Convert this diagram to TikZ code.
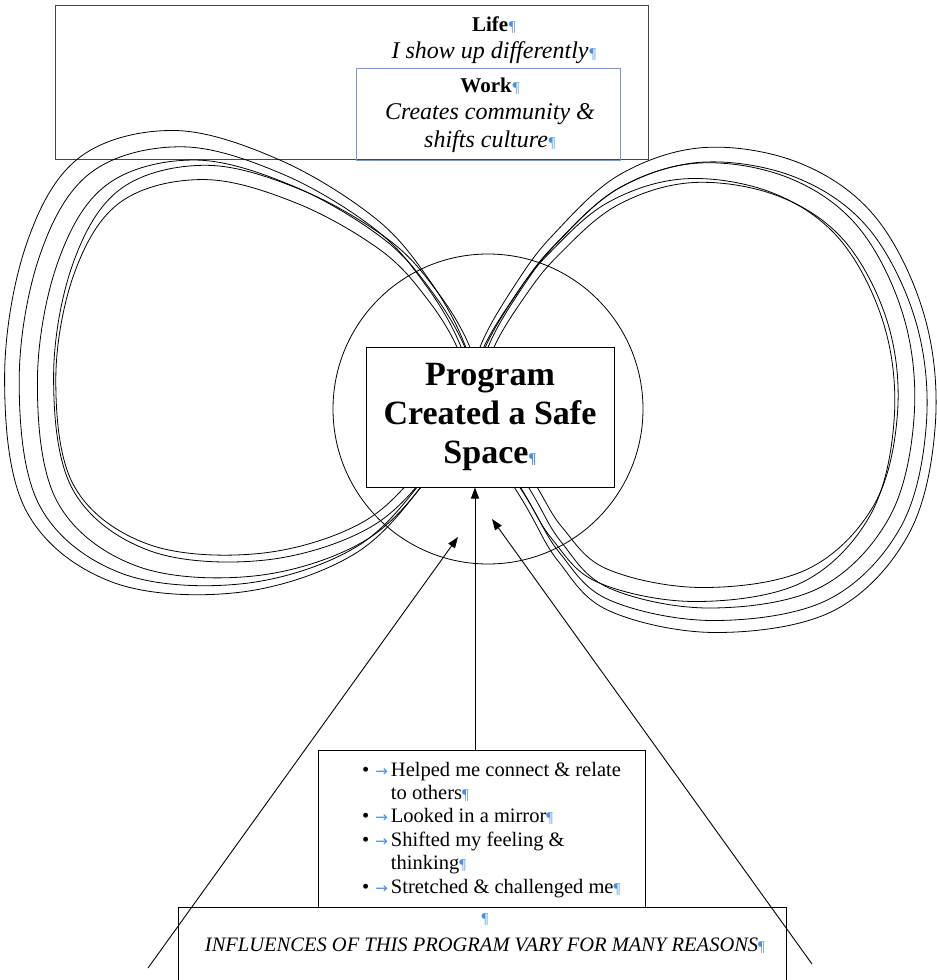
\documentclass[tikz,border=0pt]{standalone}
\usepackage{fontspec}
\setmainfont{Liberation Serif}
\newfontfamily\arrowfont{DejaVu Sans}
\usepackage{tikz}
\usetikzlibrary{arrows.meta}

\definecolor{pilblue}{RGB}{74,144,226}
\definecolor{lifegray}{RGB}{70,70,70}
\definecolor{workblue}{RGB}{125,155,200}
\newcommand{\pil}{\textcolor{pilblue}{\fontsize{15}{15}\selectfont\P}}
\newcommand{\tabarrow}{\textcolor{pilblue}{\arrowfont\fontsize{15}{15}\selectfont →}}
\newcommand{\headword}[1]{{\fontsize{21}{27.5}\selectfont\upshape\bfseries #1}}

\begin{document}
\begin{tikzpicture}[x=1pt, y=-1pt, >={Triangle[length=11pt,width=8pt]},
    box/.style={draw, line width=1pt, inner sep=0pt},
    txt/.style={font=\fontsize{20.5}{23.4}\selectfont, align=center, inner sep=0pt},
    bigtxt/.style={font=\fontsize{24}{27.5}\selectfont\itshape, align=center, inner sep=0pt},
    strand/.style={line width=0.8pt},
    arr/.style={->, line width=0.9pt}]

    \useasboundingbox (0,0) rectangle (937,980);

    % Define nodes
    \node[box, draw=lifegray, minimum width=593pt, minimum height=154pt] (life) at (351.5,82) {};
    \node[bigtxt] (lifetext) at (494,40) {\headword{Life}\pil\\ I show up differently\pil};
    \node[box, draw=workblue, line width=0.7pt, minimum width=264pt, minimum height=92pt] (work) at (488,114) {};
    \node[bigtxt] (worktext) at (490,115) {\headword{Work}\pil\\ Creates community \&\\ shifts culture\pil};
    \node[draw, circle, line width=0.8pt, minimum size=310pt] (ring) at (488,409) {};

    % Figure eight drawn by hand, several times over
    \foreach \sx/\sy/\ox/\oy in {1.06/1.10/-2/-4, 1.02/1.04/-5/0, 0.99/0.99/0/3, 0.96/0.94/3/-2, 0.93/0.89/-8/2} {
        \draw[strand, shift={(473+\ox,360+\oy)}, xscale=\sx, yscale=\sy] plot[smooth cycle, tension=0.6] coordinates
            {(5,40) (-7,-13) (-40,-70) (-90,-125) (-180,-178) (-280,-205) (-370,-180) (-420,-100) (-440,20)
             (-420,140) (-340,205) (-220,215) (-110,180) (-40,110)};
    }
    \foreach \sx/\sy/\ox/\oy in {1.07/1.09/0/0, 1.04/1.03/4/3, 1.0/1.0/9/-2, 0.97/0.95/2/4, 0.95/0.91/14/0} {
        \draw[strand, shift={(473+\ox,360+\oy)}, xscale=\sx, yscale=\sy] plot[smooth cycle, tension=0.6] coordinates
            {(-5,40) (7,-13) (40,-70) (75,-115) (137,-170) (217,-195) (307,-180) (377,-130) (422,-40)
             (432,60) (407,160) (337,230) (227,250) (127,230) (80,185) (50,135)};
    }

    \node[box, fill=white, minimum width=248pt, minimum height=140pt, align=center,
        font=\fontsize{34}{39}\selectfont\bfseries] (core) at (490,417) {Program\\ Created a Safe\\ Space\pil};

    \node[box, minimum width=327pt, minimum height=157pt] (bulletbox) at (481.5,828.5) {};
    \node[txt, anchor=west, align=left] (bullettext) at (362,830) {%
        \begin{tabular}{@{}l@{\hspace{3pt}}l@{}}
        \textbullet\hspace{6pt}\tabarrow & Helped me connect \& relate\\
         & to others\pil\\
        \textbullet\hspace{6pt}\tabarrow & Looked in a mirror\pil\\
        \textbullet\hspace{6pt}\tabarrow & Shifted my feeling \&\\
         & thinking\pil\\
        \textbullet\hspace{6pt}\tabarrow & Stretched \& challenged me\pil
        \end{tabular}};
    \node[box, minimum width=608pt, minimum height=100pt] (reasons) at (482,957) {};
    \node[txt, font=\fontsize{20.5}{28}\selectfont] (reasonstext) at (485,934) {\pil\\ \textit{INFLUENCES OF THIS PROGRAM VARY FOR MANY REASONS}\pil};

    % Draw edges with arrows
    \coordinate (vx) at (475,0);
    \coordinate (lfoot) at (148,968);
    \coordinate (ltip) at (458,537);
    \coordinate (rfoot) at (812,964);
    \coordinate (rtip) at (492,519);
    \draw[arr] (bulletbox.north -| vx) -- (core.south -| vx);
    \draw[arr] (lfoot) -- (ltip);
    \draw[arr] (rfoot) -- (rtip);

\end{tikzpicture}
\end{document}
